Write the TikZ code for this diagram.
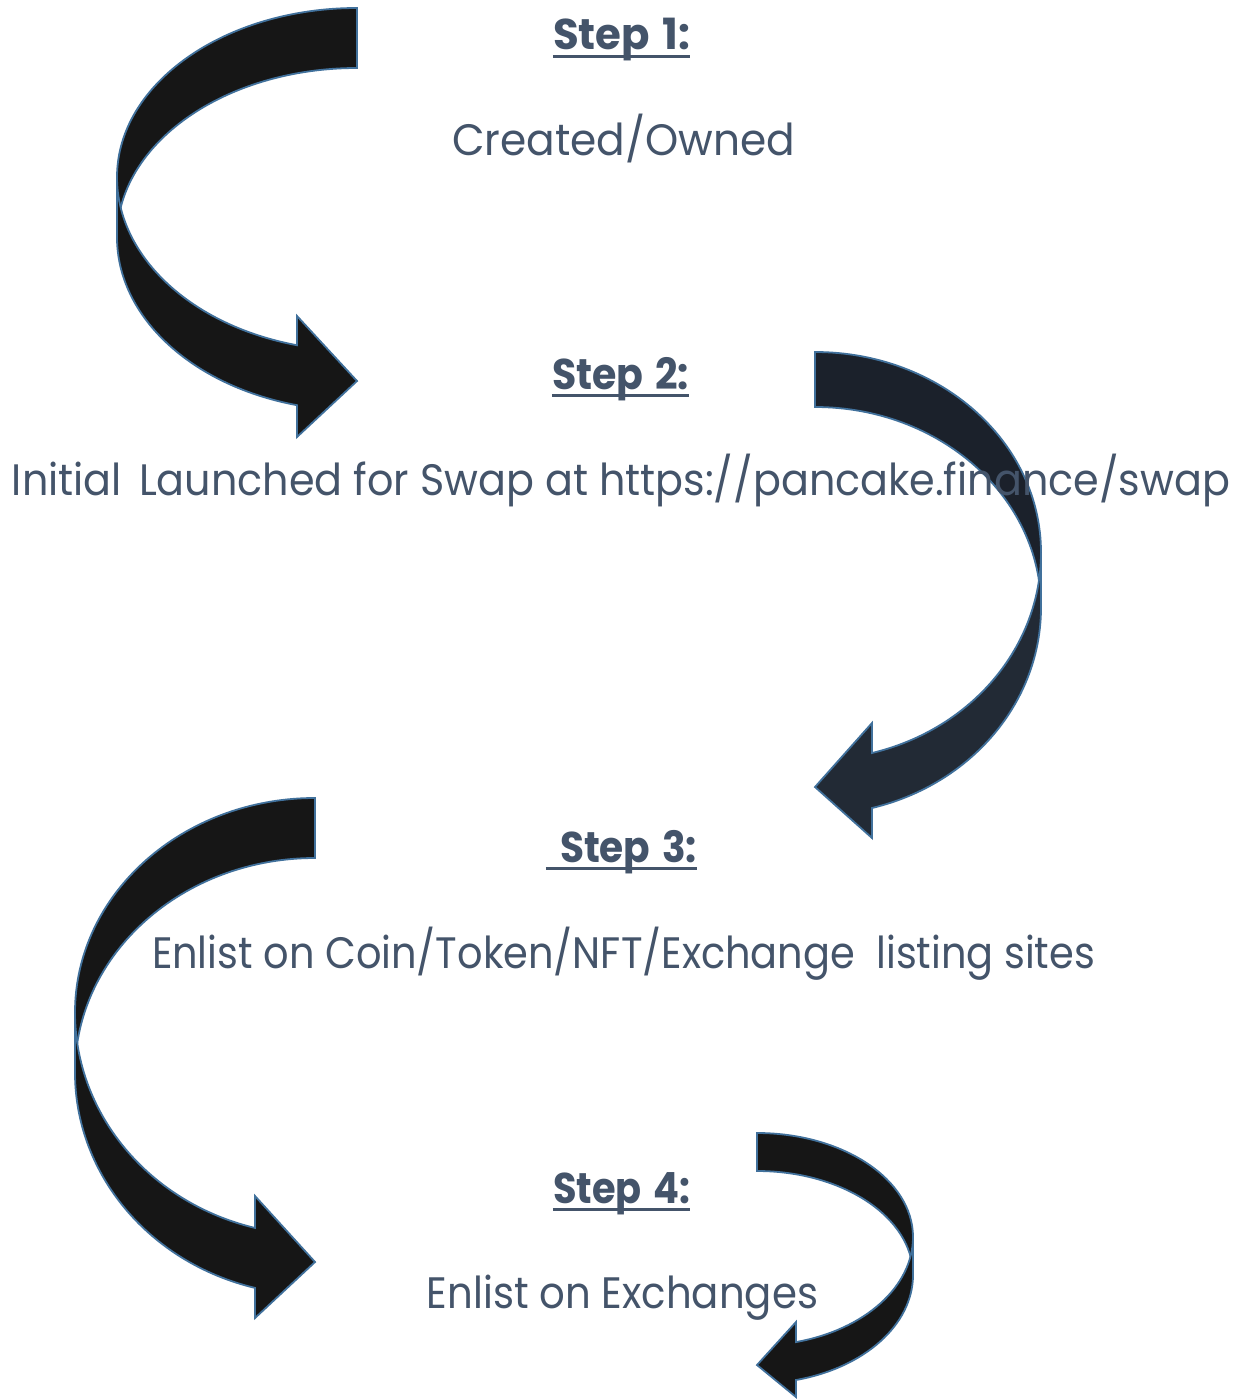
\documentclass[tikz,border=0pt]{standalone}
\usepackage{graphicx}
\usepackage{fontspec}
\setmainfont{Poppins}
\definecolor{txt}{HTML}{44546A}
\definecolor{edge}{HTML}{41719C}
\definecolor{dark}{HTML}{161616}
\definecolor{navyA}{HTML}{1B212B}
\definecolor{navyB}{HTML}{222A35}
\newcommand\fitw[2]{\resizebox{#1pt}{\height}{#2}}
\begin{document}
\begin{tikzpicture}[x=1pt,y=-1pt,
  band/.style={draw=edge,line width=1.8pt,line join=miter},
  body/.style={font=\fontsize{44}{50}\selectfont,text=txt,inner sep=0pt,anchor=base},
  steplbl/.style={font=\fontsize{43}{48}\selectfont\bfseries,text=txt,inner sep=0pt,anchor=base},
  ul/.style={draw=txt,line width=3.5pt}]
\useasboundingbox (0,0) rectangle (1244,1399);
\fill[white] (0,0) rectangle (1244,1399);

% Arrow 1 (bulge left, points right)
\path[band,fill=dark] (357,8) arc[start angle=270,end angle=180,x radius=240,y radius=169.25]
  -- (117,237.25) arc[start angle=180,end angle=270,x radius=240,y radius=169.25] -- cycle;
\path[band,fill=dark] (117,177.25) arc[start angle=180,end angle=104.4775,x radius=240,y radius=173.5]
  -- (297,316) -- (357,381) -- (297,437) -- (297,405.2)
  arc[start angle=104.4775,end angle=180,x radius=240,y radius=173.5] -- cycle;

% Arrow 2 (bulge right, points left)
\path[band,fill=navyA] (815,352) arc[start angle=270,end angle=360,x radius=226,y radius=200.5]
  -- (1041,607.5) arc[start angle=0,end angle=-90,x radius=226,y radius=200.5] -- cycle;
\path[band,fill=navyB] (1041,552.5) arc[start angle=0,end angle=75.39,x radius=226,y radius=207.2]
  -- (872,723) -- (815,787) -- (872,838) -- (872,808)
  arc[start angle=75.39,end angle=0,x radius=226,y radius=207.2] -- cycle;

% Arrow 3 (bulge left, points right)
\path[band,fill=dark] (315,798) arc[start angle=270,end angle=180,x radius=240,y radius=214.5]
  -- (75,1072.5) arc[start angle=180,end angle=270,x radius=240,y radius=214.5] -- cycle;
\path[band,fill=dark] (75,1012.5) arc[start angle=180,end angle=104.4775,x radius=240,y radius=222.5]
  -- (255,1196) -- (315,1262) -- (255,1318) -- (255,1287.9)
  arc[start angle=104.4775,end angle=180,x radius=240,y radius=222.5] -- cycle;

% Arrow 4 (bulge right, points left)
\path[band,fill=dark] (757,1133) arc[start angle=270,end angle=360,x radius=156,y radius=104]
  -- (913,1275) arc[start angle=0,end angle=-90,x radius=156,y radius=104] -- cycle;
\path[band,fill=dark] (913,1237) arc[start angle=0,end angle=75.5225,x radius=156,y radius=108.5]
  -- (796,1322) -- (757,1365) -- (796,1397) -- (796,1380)
  arc[start angle=75.5225,end angle=0,x radius=156,y radius=108.5] -- cycle;

% Texts
\node[steplbl] (s1) at (621.5,50) {\fitw{137}{Step\hspace{0.3em}1:}};
\draw[ul] ([yshift=-6.5pt]s1.base west) -- ([yshift=-6.5pt]s1.base east);
\node[body] (t1) at (623.5,156) {\fitw{343}{Created/Owned}};

\node[steplbl] (s2) at (620.5,389) {\fitw{137}{Step\hspace{0.3em}2:}};
\draw[ul] ([yshift=-6.5pt]s2.base west) -- ([yshift=-6.5pt]s2.base east);
\node[body] (t2) at (621,495) {\fitw{1218}{Initial\hspace{0.15em} Launched for Swap at https://pancake.finance/swap}};

\node[steplbl] (s3) at (628.5,862) {\fitw{137}{Step\hspace{0.3em}3:}};
\draw[ul] ([yshift=-6.5pt,xshift=-14pt]s3.base west) -- ([yshift=-6.5pt]s3.base east);
\node[body] (t3) at (623.5,968) {\fitw{943}{Enlist on Coin/Token/NFT/Exchange\ \ listing sites}};

\node[steplbl] (s4) at (621.5,1203) {\fitw{137}{Step\hspace{0.3em}4:}};
\draw[ul] ([yshift=-6.5pt]s4.base west) -- ([yshift=-6.5pt]s4.base east);
\node[body] (t4) at (622.5,1308) {\fitw{391}{Enlist on Exchanges}};
\end{tikzpicture}
\end{document}
